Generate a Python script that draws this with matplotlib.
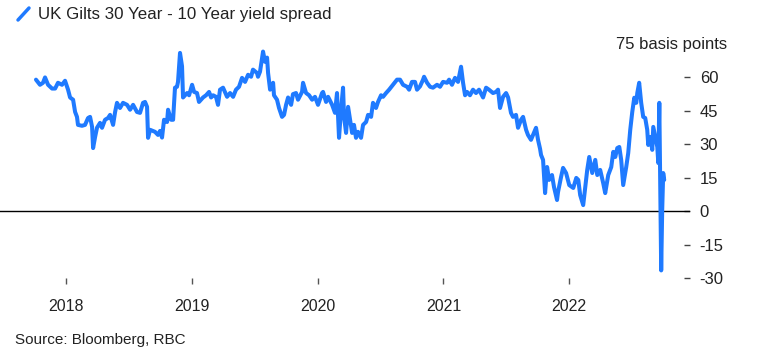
import matplotlib
matplotlib.use("Agg")
import matplotlib.pyplot as plt
from matplotlib.lines import Line2D

plt.rcParams['font.family'] = ['Liberation Sans', 'DejaVu Sans']

# time as decimal years, spread in basis points
t = [2017.761, 2017.793, 2017.817, 2017.833, 2017.857, 2017.889, 2017.913, 2017.936, 2017.968, 2017.992,
     2018.016, 2018.032, 2018.056, 2018.072, 2018.087, 2018.095, 2018.127, 2018.151, 2018.175, 2018.191,
     2018.207, 2018.215, 2018.231, 2018.246, 2018.270, 2018.286, 2018.310, 2018.334, 2018.350, 2018.374,
     2018.390, 2018.405, 2018.429, 2018.453, 2018.485, 2018.509, 2018.533, 2018.564, 2018.588, 2018.612,
     2018.628, 2018.644, 2018.652, 2018.668, 2018.707, 2018.731, 2018.747, 2018.763, 2018.779, 2018.803,
     2018.811, 2018.835, 2018.851, 2018.866, 2018.882, 2018.890, 2018.906, 2018.922, 2018.930, 2018.962,
     2018.978, 2019.002, 2019.018, 2019.041, 2019.057, 2019.089, 2019.113, 2019.137, 2019.153, 2019.169,
     2019.192, 2019.208, 2019.224, 2019.248, 2019.280, 2019.304, 2019.328, 2019.351, 2019.375, 2019.399,
     2019.423, 2019.447, 2019.471, 2019.486, 2019.518, 2019.526, 2019.542, 2019.566, 2019.582, 2019.598,
     2019.606, 2019.622, 2019.646, 2019.653, 2019.677, 2019.693, 2019.717, 2019.733, 2019.749, 2019.765,
     2019.789, 2019.804, 2019.828, 2019.844, 2019.876, 2019.884, 2019.908, 2019.932, 2019.956, 2019.979,
     2020.003, 2020.035, 2020.043, 2020.067, 2020.083, 2020.115, 2020.138, 2020.154, 2020.170, 2020.186,
     2020.202, 2020.210, 2020.226, 2020.242, 2020.258, 2020.274, 2020.289, 2020.305, 2020.321, 2020.345,
     2020.361, 2020.385, 2020.401, 2020.425, 2020.440, 2020.464, 2020.480, 2020.504, 2020.520, 2020.544,
     2020.568, 2020.599, 2020.631, 2020.655, 2020.679, 2020.711, 2020.727, 2020.750, 2020.774, 2020.790,
     2020.814, 2020.838, 2020.846, 2020.870, 2020.894, 2020.917, 2020.949, 2020.973, 2020.997, 2021.029,
     2021.045, 2021.068, 2021.092, 2021.116, 2021.140, 2021.156, 2021.172, 2021.188, 2021.211, 2021.235,
     2021.259, 2021.283, 2021.315, 2021.339, 2021.362, 2021.394, 2021.418, 2021.434, 2021.450, 2021.474,
     2021.498, 2021.514, 2021.537, 2021.553, 2021.577, 2021.593, 2021.617, 2021.633, 2021.657, 2021.672,
     2021.696, 2021.712, 2021.736, 2021.752, 2021.768, 2021.776, 2021.792, 2021.808, 2021.824, 2021.840,
     2021.863, 2021.879, 2021.903, 2021.911, 2021.935, 2021.951, 2021.975, 2022.000, 2022.032, 2022.056,
     2022.072, 2022.087, 2022.111, 2022.127, 2022.143, 2022.159, 2022.183, 2022.207, 2022.223, 2022.246,
     2022.270, 2022.286, 2022.310, 2022.334, 2022.350, 2022.366, 2022.382, 2022.398, 2022.413, 2022.429,
     2022.453, 2022.469, 2022.485, 2022.501, 2022.517, 2022.533, 2022.541, 2022.556, 2022.572, 2022.588,
     2022.604, 2022.620, 2022.628, 2022.644, 2022.660, 2022.668, 2022.684, 2022.700, 2022.708, 2022.716,
     2022.723, 2022.731, 2022.739, 2022.747, 2022.755]
spread = [59, 56.7, 57.6, 60, 56.7, 55, 55, 57.6, 56.7, 58.5,
          54.5, 51, 50, 44.5, 42.3, 38.7, 38.3, 38.7, 41.8, 42.3,
          37.8, 28.3, 33.3, 37.4, 39.6, 37.4, 41, 41.8, 43.2, 38.7,
          44.5, 48.6, 46.3, 48.6, 47.7, 45.5, 47.7, 44.5, 44.1, 48.6,
          49, 46.8, 32.9, 36.5, 35.6, 34.2, 36, 33, 41, 40,
          45.5, 41, 41, 55.4, 55.8, 58, 71, 65, 51, 53,
          52, 56.7, 53.5, 53, 49, 51, 52, 53.5, 51, 52,
          51.3, 47.7, 54.5, 55.4, 51.3, 53, 51.3, 54.5, 55.8, 59.8,
          58, 61.2, 60.3, 63.5, 62, 60.3, 62.6, 71.6, 67, 68.9,
          62, 54.5, 57.6, 52, 50, 46.3, 42.3, 43.2, 47.7, 51,
          47.7, 52.5, 53, 50, 53.5, 57.6, 53, 52, 50, 51.3,
          47.7, 53, 53.5, 49, 51.3, 47.7, 44.1, 53, 32.9, 45.5,
          55.4, 42.3, 35.1, 46.8, 41, 35.1, 38.7, 32.9, 35.6, 32.9,
          38.7, 40, 43.2, 42.3, 48.6, 46.3, 49, 52, 51.3, 53,
          54.5, 56.7, 59, 59, 56.7, 55.8, 54.5, 58, 58, 54.5,
          56, 59, 60.3, 57.6, 55.8, 55.4, 56.7, 55.8, 58, 57.6,
          59, 56.7, 59.8, 58, 64.8, 57.6, 52, 53.5, 52, 54.5,
          53, 54.5, 51, 55.4, 54.5, 53, 53.5, 54.5, 46.3, 51.3,
          53, 51, 44.1, 42.3, 43.2, 37.4, 41, 42.3, 36.5, 34.2,
          32, 34.2, 37.4, 32, 28, 25.2, 23, 8.1, 19.8, 14,
          16.2, 10.8, 5, 8.6, 15.3, 19.4, 17.1, 11.7, 10.4, 14.9,
          14, 7.2, 2.7, 10.4, 18.5, 24.3, 17.1, 23, 16.2, 18.5,
          12.6, 8.1, 16.2, 19.8, 26.6, 24.3, 28.3, 28.8, 23, 11.7,
          19.8, 26.1, 36.5, 44.5, 50.9, 48.6, 53, 57.6, 48.6, 42.3,
          41.8, 36.5, 29.7, 33.3, 27.5, 37.8, 33.3, 28.8, 21.6, 48.6,
          15.3, -26.6, 0.5, 17.1, 14]

year_ticks = [2018, 2019, 2020, 2021, 2022]
year_labels = ["2018", "2019", "2020", "2021", "2022"]
y_ticks = [60, 45, 30, 15, 0, -15, -30]
y_labels = ["60", "45", "30", "15", "0", "-15", "-30"]

W, H = 760, 361
fig = plt.figure(figsize=(W / 100, H / 100), dpi=100)
ax = fig.add_axes([0 / W, 1 - 278 / H, 690 / W, (278 - 44) / H])

blue = '#1f7aff'
ax.plot(t, spread, color=blue, lw=2.9, solid_joinstyle='round', solid_capstyle='round', zorder=3)
ax.axhline(0, color='black', lw=1.0, zorder=2)

ax.set_xlim(2017.475, 2022.960)
ax.set_ylim(-30, 75)

for s in ax.spines.values():
    s.set_visible(False)

ax.set_xticks(year_ticks)
ax.set_xticklabels(year_labels)
ax.tick_params(axis='x', direction='out', length=4, width=1, color='#555555',
               pad=11, labelsize=11.5, labelcolor='#222222')

ax.yaxis.tick_right()
ax.set_yticks(y_ticks)
ax.set_yticklabels(y_labels)
ax.tick_params(axis='y', direction='in', length=4.5, width=1, color='#444444',
               pad=7, labelsize=12, labelcolor='#222222')
for lab in ax.get_yticklabels():
    lab.set_horizontalalignment('left')

fig.text(727 / W, 1 - 44 / H, "75 basis points", ha='right', va='center',
         fontsize=12, color='#222222')

# legend-like header
fig.add_artist(Line2D([18 / W, 29 / W], [1 - 20 / H, 1 - 8 / H], transform=fig.transFigure,
                      color=blue, lw=2.5, solid_capstyle='round'))
fig.text(38 / W, 1 - 15 / H, "UK Gilts 30 Year - 10 Year yield spread", ha='left', va='center',
         fontsize=12.2, color='#222222')

fig.text(15 / W, 1 - 340 / H, "Source: Bloomberg, RBC", ha='left', va='center',
         fontsize=11, color='#222222')

fig.savefig('out.png', dpi=100)
